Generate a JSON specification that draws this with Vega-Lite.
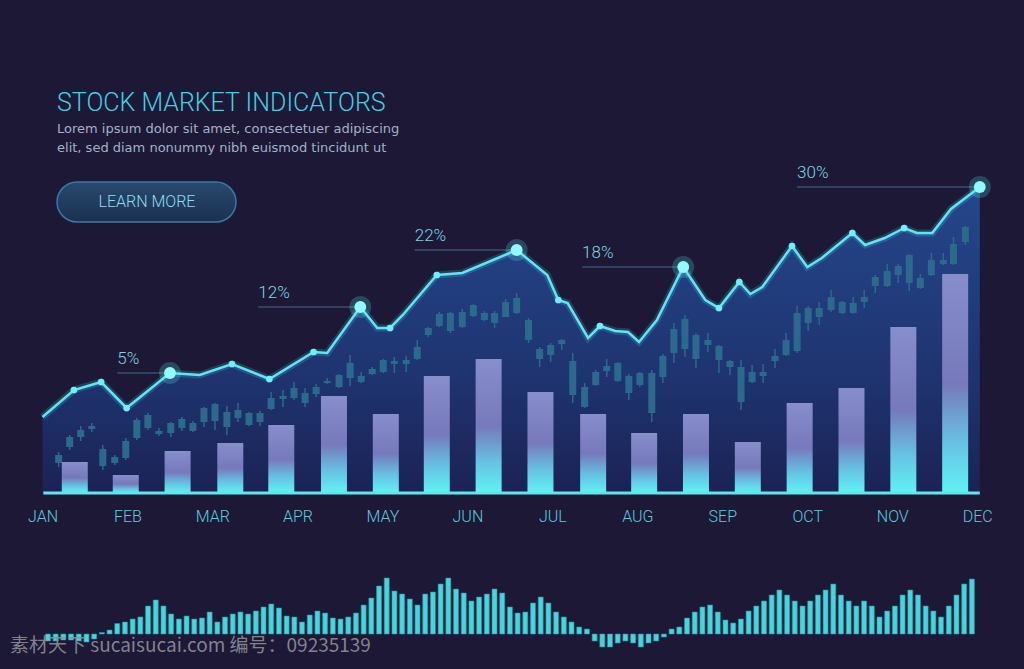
{
  "$schema": "https://vega.github.io/schema/vega-lite/v6.json",
  "background": "#1c1836",
  "padding": 0,
  "spacing": 77,
  "bounds": "flush",
  "config": {"view": {"stroke": null}},
  "datasets": {
    "line": [
      {"m":0,"v":76,"dot":"none"},{"m":0.37,"v":103,"dot":"small"},{"m":0.69,"v":111,"dot":"small"},{"m":0.99,"v":85,"dot":"small"},
      {"m":1.50,"v":120,"dot":"big"},{"m":1.85,"v":118,"dot":"none"},{"m":2.23,"v":129,"dot":"small"},{"m":2.67,"v":114,"dot":"small"},
      {"m":3.19,"v":141,"dot":"small"},{"m":3.35,"v":140,"dot":"none"},{"m":3.74,"v":186,"dot":"big"},{"m":3.94,"v":165,"dot":"none"},
      {"m":4.09,"v":165,"dot":"small"},{"m":4.24,"v":178,"dot":"none"},{"m":4.64,"v":218,"dot":"small"},{"m":4.94,"v":220,"dot":"none"},
      {"m":5.58,"v":243,"dot":"big"},{"m":5.94,"v":218,"dot":"none"},{"m":6.07,"v":193,"dot":"small"},{"m":6.18,"v":190,"dot":"none"},
      {"m":6.42,"v":155,"dot":"none"},{"m":6.56,"v":167,"dot":"small"},{"m":6.74,"v":162,"dot":"none"},{"m":6.89,"v":161,"dot":"none"},
      {"m":7.02,"v":151,"dot":"none"},{"m":7.23,"v":173,"dot":"none"},{"m":7.54,"v":226,"dot":"big"},{"m":7.80,"v":193,"dot":"none"},
      {"m":7.96,"v":185,"dot":"small"},{"m":8.20,"v":211,"dot":"small"},{"m":8.33,"v":199,"dot":"none"},{"m":8.47,"v":206,"dot":"none"},
      {"m":8.82,"v":247,"dot":"small"},{"m":9.00,"v":226,"dot":"none"},{"m":9.17,"v":235,"dot":"none"},{"m":9.53,"v":260,"dot":"small"},
      {"m":9.68,"v":248,"dot":"none"},{"m":9.91,"v":255,"dot":"none"},{"m":10.14,"v":265,"dot":"small"},{"m":10.29,"v":260,"dot":"none"},
      {"m":10.47,"v":260,"dot":"none"},{"m":10.69,"v":284,"dot":"none"},{"m":11.03,"v":306,"dot":"big"}
    ],
    "bars": [
      {"m":0.38,"v":31},{"m":0.98,"v":18},{"m":1.59,"v":42},{"m":2.21,"v":50},{"m":2.81,"v":68},{"m":3.43,"v":97},
      {"m":4.04,"v":79},{"m":4.64,"v":117},{"m":5.25,"v":134},{"m":5.86,"v":101},{"m":6.48,"v":79},{"m":7.08,"v":60},
      {"m":7.69,"v":79},{"m":8.30,"v":51},{"m":8.91,"v":90},{"m":9.52,"v":105},{"m":10.13,"v":166},{"m":10.74,"v":219}
    ],
    "candles": [
      {"m":0.19,"o":38,"c":30,"hi":41,"lo":26},{"m":0.32,"o":56,"c":46,"hi":58,"lo":43},{"m":0.45,"o":63,"c":56,"hi":67,"lo":52},
      {"m":0.58,"o":67,"c":64,"hi":70,"lo":61},{"m":0.71,"o":44,"c":27,"hi":48,"lo":23},{"m":0.85,"o":36,"c":30,"hi":38,"lo":28},
      {"m":0.98,"o":52,"c":35,"hi":55,"lo":33},{"m":1.11,"o":73,"c":55,"hi":75,"lo":53},{"m":1.24,"o":78,"c":65,"hi":80,"lo":63},
      {"m":1.37,"o":62,"c":59,"hi":65,"lo":57},{"m":1.51,"o":70,"c":60,"hi":71,"lo":56},{"m":1.64,"o":74,"c":65,"hi":76,"lo":62},
      {"m":1.77,"o":70,"c":62,"hi":72,"lo":61},{"m":1.90,"o":85,"c":71,"hi":86,"lo":66},{"m":2.03,"o":89,"c":72,"hi":90,"lo":63},
      {"m":2.17,"o":81,"c":66,"hi":87,"lo":58},{"m":2.30,"o":83,"c":75,"hi":90,"lo":71},{"m":2.43,"o":80,"c":68,"hi":81,"lo":67},
      {"m":2.56,"o":80,"c":71,"hi":82,"lo":67},{"m":2.69,"o":95,"c":84,"hi":101,"lo":83},{"m":2.83,"o":97,"c":94,"hi":103,"lo":86},
      {"m":2.96,"o":105,"c":95,"hi":111,"lo":93},{"m":3.09,"o":100,"c":90,"hi":105,"lo":86},{"m":3.22,"o":106,"c":99,"hi":109,"lo":96},
      {"m":3.35,"o":112,"c":110,"hi":115,"lo":109},{"m":3.49,"o":118,"c":106,"hi":119,"lo":105},{"m":3.62,"o":130,"c":115,"hi":138,"lo":107},
      {"m":3.75,"o":117,"c":111,"hi":121,"lo":110},{"m":3.88,"o":124,"c":119,"hi":126,"lo":118},{"m":4.01,"o":133,"c":121,"hi":134,"lo":120},
      {"m":4.14,"o":132,"c":129,"hi":136,"lo":120},{"m":4.28,"o":133,"c":129,"hi":137,"lo":121},{"m":4.41,"o":146,"c":134,"hi":153,"lo":133},
      {"m":4.54,"o":165,"c":158,"hi":166,"lo":156},{"m":4.67,"o":179,"c":167,"hi":181,"lo":166},{"m":4.80,"o":180,"c":162,"hi":181,"lo":160},
      {"m":4.94,"o":181,"c":166,"hi":184,"lo":165},{"m":5.07,"o":188,"c":177,"hi":189,"lo":176},{"m":5.20,"o":180,"c":173,"hi":182,"lo":172},
      {"m":5.32,"o":180,"c":170,"hi":182,"lo":165},{"m":5.45,"o":191,"c":176,"hi":194,"lo":176},{"m":5.58,"o":195,"c":180,"hi":200,"lo":179},
      {"m":5.72,"o":173,"c":153,"hi":175,"lo":150},{"m":5.85,"o":144,"c":134,"hi":146,"lo":126},{"m":5.98,"o":148,"c":138,"hi":150,"lo":131},
      {"m":6.11,"o":153,"c":149,"hi":154,"lo":143},{"m":6.24,"o":132,"c":98,"hi":140,"lo":90},{"m":6.38,"o":106,"c":86,"hi":110,"lo":85},
      {"m":6.51,"o":121,"c":108,"hi":123,"lo":107},{"m":6.64,"o":127,"c":122,"hi":134,"lo":116},{"m":6.77,"o":130,"c":112,"hi":131,"lo":111},
      {"m":6.90,"o":117,"c":100,"hi":119,"lo":93},{"m":7.03,"o":120,"c":108,"hi":121,"lo":106},{"m":7.17,"o":120,"c":80,"hi":123,"lo":71},
      {"m":7.30,"o":137,"c":116,"hi":139,"lo":110},{"m":7.43,"o":164,"c":140,"hi":170,"lo":130},{"m":7.56,"o":174,"c":144,"hi":178,"lo":136},
      {"m":7.69,"o":158,"c":134,"hi":160,"lo":125},{"m":7.83,"o":153,"c":148,"hi":160,"lo":141},{"m":7.96,"o":147,"c":133,"hi":148,"lo":120},
      {"m":8.09,"o":132,"c":126,"hi":133,"lo":118},{"m":8.22,"o":126,"c":91,"hi":133,"lo":83},{"m":8.35,"o":121,"c":111,"hi":128,"lo":110},
      {"m":8.48,"o":121,"c":117,"hi":129,"lo":110},{"m":8.62,"o":137,"c":132,"hi":144,"lo":125},{"m":8.75,"o":153,"c":138,"hi":160,"lo":137},
      {"m":8.88,"o":180,"c":142,"hi":187,"lo":140},{"m":9.01,"o":185,"c":170,"hi":187,"lo":162},{"m":9.14,"o":185,"c":176,"hi":191,"lo":168},
      {"m":9.28,"o":196,"c":183,"hi":203,"lo":181},{"m":9.41,"o":191,"c":180,"hi":192,"lo":179},{"m":9.54,"o":190,"c":180,"hi":196,"lo":179},
      {"m":9.67,"o":196,"c":191,"hi":203,"lo":185},{"m":9.80,"o":216,"c":207,"hi":218,"lo":200},{"m":9.94,"o":222,"c":207,"hi":229,"lo":206},
      {"m":10.07,"o":227,"c":218,"hi":229,"lo":210},{"m":10.20,"o":238,"c":210,"hi":239,"lo":202},{"m":10.33,"o":215,"c":205,"hi":219,"lo":204},
      {"m":10.46,"o":233,"c":218,"hi":240,"lo":217},{"m":10.60,"o":233,"c":229,"hi":240,"lo":228},{"m":10.72,"o":249,"c":229,"hi":256,"lo":228},
      {"m":10.86,"o":266,"c":251,"hi":267,"lo":248}
    ],
    "notes": [
      {"label":"5%","m":1.50,"v":120,"m1":0.88},
      {"label":"12%","m":3.74,"v":186,"m1":2.54},
      {"label":"22%","m":5.58,"v":243,"m1":4.38},
      {"label":"18%","m":7.54,"v":226,"m1":6.35},
      {"label":"30%","m":11.03,"v":306,"m1":8.88}
    ],
    "volume": [
      {"i":0,"v":-7},{"i":1,"v":-7},{"i":2,"v":-6},{"i":3,"v":-6},{"i":4,"v":-7},{"i":5,"v":-8},{"i":6,"v":-5},{"i":7,"v":1.5},
      {"i":8,"v":4},{"i":9,"v":10.5},{"i":10,"v":12},{"i":11,"v":15},{"i":12,"v":17},{"i":13,"v":28},{"i":14,"v":34},{"i":15,"v":28},
      {"i":16,"v":20},{"i":17,"v":15},{"i":18,"v":18},{"i":19,"v":15},{"i":20,"v":16},{"i":21,"v":22},{"i":22,"v":12},{"i":23,"v":17},
      {"i":24,"v":20},{"i":25,"v":22},{"i":26,"v":20},{"i":27,"v":23},{"i":28,"v":27},{"i":29,"v":30},{"i":30,"v":26},{"i":31,"v":18},
      {"i":32,"v":17},{"i":33,"v":12},{"i":34,"v":19},{"i":35,"v":23},{"i":36,"v":21},{"i":37,"v":16},{"i":38,"v":15},{"i":39,"v":17},
      {"i":40,"v":21},{"i":41,"v":29},{"i":42,"v":36},{"i":43,"v":48},{"i":44,"v":56},{"i":45,"v":43},{"i":46,"v":40},{"i":47,"v":35},
      {"i":48,"v":29},{"i":49,"v":40},{"i":50,"v":42},{"i":51,"v":50},{"i":52,"v":56},{"i":53,"v":45},{"i":54,"v":41},{"i":55,"v":33},
      {"i":56,"v":37},{"i":57,"v":40},{"i":58,"v":45},{"i":59,"v":41},{"i":60,"v":27},{"i":61,"v":21},{"i":62,"v":22},{"i":63,"v":31},
      {"i":64,"v":37},{"i":65,"v":31},{"i":66,"v":22},{"i":67,"v":17},{"i":68,"v":12},{"i":69,"v":7},{"i":70,"v":5},{"i":71,"v":-7},
      {"i":72,"v":-13},{"i":73,"v":-13},{"i":74,"v":-9},{"i":75,"v":-7},{"i":76,"v":-9},{"i":77,"v":-13},{"i":78,"v":-9},{"i":79,"v":-7},
      {"i":80,"v":-3},{"i":81,"v":5},{"i":82,"v":7},{"i":83,"v":16},{"i":84,"v":22},{"i":85,"v":27},{"i":86,"v":29},{"i":87,"v":22},
      {"i":88,"v":14},{"i":89,"v":11},{"i":90,"v":15},{"i":91,"v":23},{"i":92,"v":28},{"i":93,"v":33},{"i":94,"v":39},{"i":95,"v":44},
      {"i":96,"v":39},{"i":97,"v":33},{"i":98,"v":28},{"i":99,"v":33},{"i":100,"v":39},{"i":101,"v":44},{"i":102,"v":50},{"i":103,"v":39},
      {"i":104,"v":33},{"i":105,"v":28},{"i":106,"v":33},{"i":107,"v":28},{"i":108,"v":17},{"i":109,"v":23},{"i":110,"v":28},{"i":111,"v":39},
      {"i":112,"v":44},{"i":113,"v":39},{"i":114,"v":28},{"i":115,"v":23},{"i":116,"v":17},{"i":117,"v":28},{"i":118,"v":39},{"i":119,"v":50},
      {"i":120,"v":55}
    ]
  },
  "vconcat": [
    {
      "width": 1024,
      "height": 493,
      "resolve": {"axis": {"x": "independent", "y": "independent"}},
      "layer": [
        {
          "data": {"name": "line"},
          "mark": {"type": "area", "line": false, "fill": {"gradient": "linear", "x1": 0, "y1": 0, "x2": 0, "y2": 1, "stops": [{"offset": 0, "color": "#25498f"}, {"offset": 0.6, "color": "#1f3674"}, {"offset": 1, "color": "#1b2356"}]}, "opacity": 0.95},
          "encoding": {
            "x": {"field": "m", "type": "quantitative", "scale": {"domain": [-0.5, 11.55], "nice": false, "zero": false, "padding": 0},
              "axis": {"values": [0,1,2,3,4,5,6,7,8,9,10,11], "labelExpr": "['JAN','FEB','MAR','APR','MAY','JUN','JUL','AUG','SEP','OCT','NOV','DEC'][datum.value]",
                "domain": false, "ticks": false, "grid": false, "title": null, "labelPadding": 15, "labelBaseline": "top",
                "labelFont": "Roboto, sans-serif", "labelFontWeight": 300, "labelFontSize": 16, "labelColor": "#5cc9df",
                "labelFlush": false, "labelOverlap": false}},
            "y": {"field": "v", "type": "quantitative", "scale": {"domain": [0, 493], "nice": false, "padding": 0}, "axis": null}
          }
        },
        {
          "data": {"name": "candles"},
          "mark": {"type": "rule", "color": "#2b6a8c", "strokeWidth": 1.5},
          "encoding": {
            "x": {"field": "m", "type": "quantitative", "axis": null},
            "y": {"field": "lo", "type": "quantitative", "axis": null},
            "y2": {"field": "hi"}
          }
        },
        {
          "data": {"name": "candles"},
          "mark": {"type": "bar", "color": "#2b6a8c", "size": 7},
          "encoding": {
            "x": {"field": "m", "type": "quantitative", "axis": null},
            "y": {"field": "o", "type": "quantitative", "axis": null},
            "y2": {"field": "c"}
          }
        },
        {
          "data": {"name": "bars"},
          "mark": {"type": "bar", "size": 26, "fill": {"gradient": "linear", "x1": 0, "y1": 0, "x2": 0, "y2": 1, "stops": [{"offset": 0, "color": "#878ecc"}, {"offset": 0.5, "color": "#7679bb"}, {"offset": 0.78, "color": "#66c4e4"}, {"offset": 1, "color": "#5ff3f3"}]}},
          "encoding": {
            "x": {"field": "m", "type": "quantitative", "axis": null},
            "y": {"field": "v", "type": "quantitative", "axis": null}
          }
        },
        {
          "data": {"values": [{}]},
          "mark": {"type": "rule", "color": "#5fe6ef", "strokeWidth": 3},
          "encoding": {
            "x": {"datum": 0.01, "type": "quantitative", "axis": null},
            "x2": {"datum": 11.03},
            "y": {"datum": 0, "type": "quantitative", "axis": null}
          }
        },
        {
          "data": {"name": "line"},
          "mark": {"type": "line", "color": "#5ce8f2", "strokeWidth": 7, "opacity": 0.18},
          "encoding": {
            "x": {"field": "m", "type": "quantitative", "axis": null},
            "y": {"field": "v", "type": "quantitative", "axis": null}
          }
        },
        {
          "data": {"name": "line"},
          "mark": {"type": "line", "color": "#5ce8f2", "strokeWidth": 2.5},
          "encoding": {
            "x": {"field": "m", "type": "quantitative", "axis": null},
            "y": {"field": "v", "type": "quantitative", "axis": null}
          }
        },
        {
          "data": {"name": "notes"},
          "mark": {"type": "rule", "color": "#4f86a4", "strokeWidth": 1, "opacity": 0.8},
          "encoding": {
            "x": {"field": "m1", "type": "quantitative", "axis": null},
            "x2": {"field": "m"},
            "y": {"field": "v", "type": "quantitative", "axis": null}
          }
        },
        {
          "data": {"name": "notes"},
          "mark": {"type": "text", "align": "left", "baseline": "bottom", "dy": -5, "font": "Roboto, sans-serif", "fontWeight": 300, "fontSize": 17, "color": "#7fd3e3"},
          "encoding": {
            "x": {"field": "m1", "type": "quantitative", "axis": null},
            "y": {"field": "v", "type": "quantitative", "axis": null},
            "text": {"field": "label"}
          }
        },
        {
          "data": {"name": "line"},
          "transform": [{"filter": "datum.dot == 'small'"}],
          "mark": {"type": "circle", "color": "#6ff0f8", "size": 45, "opacity": 1},
          "encoding": {
            "x": {"field": "m", "type": "quantitative", "axis": null},
            "y": {"field": "v", "type": "quantitative", "axis": null}
          }
        },
        {
          "data": {"name": "line"},
          "transform": [{"filter": "datum.dot == 'big'"}],
          "mark": {"type": "circle", "color": "#5ef0f8", "size": 480, "opacity": 0.22},
          "encoding": {
            "x": {"field": "m", "type": "quantitative", "axis": null},
            "y": {"field": "v", "type": "quantitative", "axis": null}
          }
        },
        {
          "data": {"name": "line"},
          "transform": [{"filter": "datum.dot == 'big'"}],
          "mark": {"type": "circle", "color": "#8ffaff", "size": 140, "opacity": 1},
          "encoding": {
            "x": {"field": "m", "type": "quantitative", "axis": null},
            "y": {"field": "v", "type": "quantitative", "axis": null}
          }
        },
        {
          "data": {"values": [{"t": "STOCK MARKET INDICATORS"}]},
          "mark": {"type": "text", "align": "left", "baseline": "alphabetic", "font": "Roboto, sans-serif", "fontWeight": 300, "fontSize": 25, "color": "#41cfe0"},
          "encoding": {
            "x": {"datum": 0.171, "type": "quantitative", "axis": null},
            "y": {"datum": 382, "type": "quantitative", "axis": null},
            "text": {"field": "t"}
          }
        },
        {
          "data": {"values": [{"t": "Lorem ipsum dolor sit amet, consectetuer adipiscing", "k": 0}, {"t": "elit, sed diam nonummy nibh euismod tincidunt ut", "k": 1}]},
          "mark": {"type": "text", "align": "left", "baseline": "alphabetic", "font": "DejaVu Sans, sans-serif", "fontSize": 13, "color": "#a3b2c8"},
          "encoding": {
            "x": {"datum": 0.171, "type": "quantitative", "axis": null},
            "y": {"datum": 360, "type": "quantitative", "axis": null},
            "yOffset": {"field": "k", "type": "quantitative", "scale": {"domain": [0, 1], "range": [0, 19]}},
            "text": {"field": "t"}
          }
        },
        {
          "data": {"values": [{}]},
          "mark": {"type": "rect", "cornerRadius": 20, "fill": {"gradient": "linear", "x1": 0, "y1": 0, "x2": 0, "y2": 1, "stops": [{"offset": 0, "color": "#284a6e"}, {"offset": 1, "color": "#1b3050"}]}, "stroke": "#3c78a4", "strokeWidth": 1.5},
          "encoding": {
            "x": {"datum": 0.171, "type": "quantitative", "axis": null},
            "x2": {"datum": 2.277},
            "y": {"datum": 311, "type": "quantitative", "axis": null},
            "y2": {"datum": 271}
          }
        },
        {
          "data": {"values": [{"t": "LEARN MORE"}]},
          "mark": {"type": "text", "align": "center", "baseline": "middle", "font": "Roboto, sans-serif", "fontWeight": 300, "fontSize": 16, "color": "#8fdcec"},
          "encoding": {
            "x": {"datum": 1.23, "type": "quantitative", "axis": null},
            "y": {"datum": 291, "type": "quantitative", "axis": null},
            "text": {"field": "t"}
          }
        }
      ]
    },
    {
      "width": 1024,
      "height": 99,
      "layer": [
        {
          "data": {"name": "volume"},
          "mark": {"type": "bar", "size": 5, "color": "#47d5dd", "stroke": "#2a8e9c", "strokeWidth": 0.6},
          "encoding": {
            "x": {"field": "i", "type": "quantitative", "scale": {"domain": [-6.23, 126.77], "nice": false, "zero": false, "padding": 0}, "axis": null},
            "y": {"field": "v", "type": "quantitative", "scale": {"domain": [-35, 64], "nice": false}, "axis": null},
            "y2": {"datum": 0}
          }
        },
        {
          "data": {"values": [{"t": "素材天下 sucaisucai.com  编号：09235139"}]},
          "mark": {"type": "text", "align": "left", "baseline": "middle", "font": "Noto Sans CJK SC, sans-serif", "fontSize": 19, "color": "#8e8e99", "opacity": 0.9},
          "encoding": {
            "x": {"datum": -4.93, "type": "quantitative", "axis": null},
            "y": {"datum": -12, "type": "quantitative", "axis": null},
            "text": {"field": "t"}
          }
        }
      ]
    }
  ]
}
